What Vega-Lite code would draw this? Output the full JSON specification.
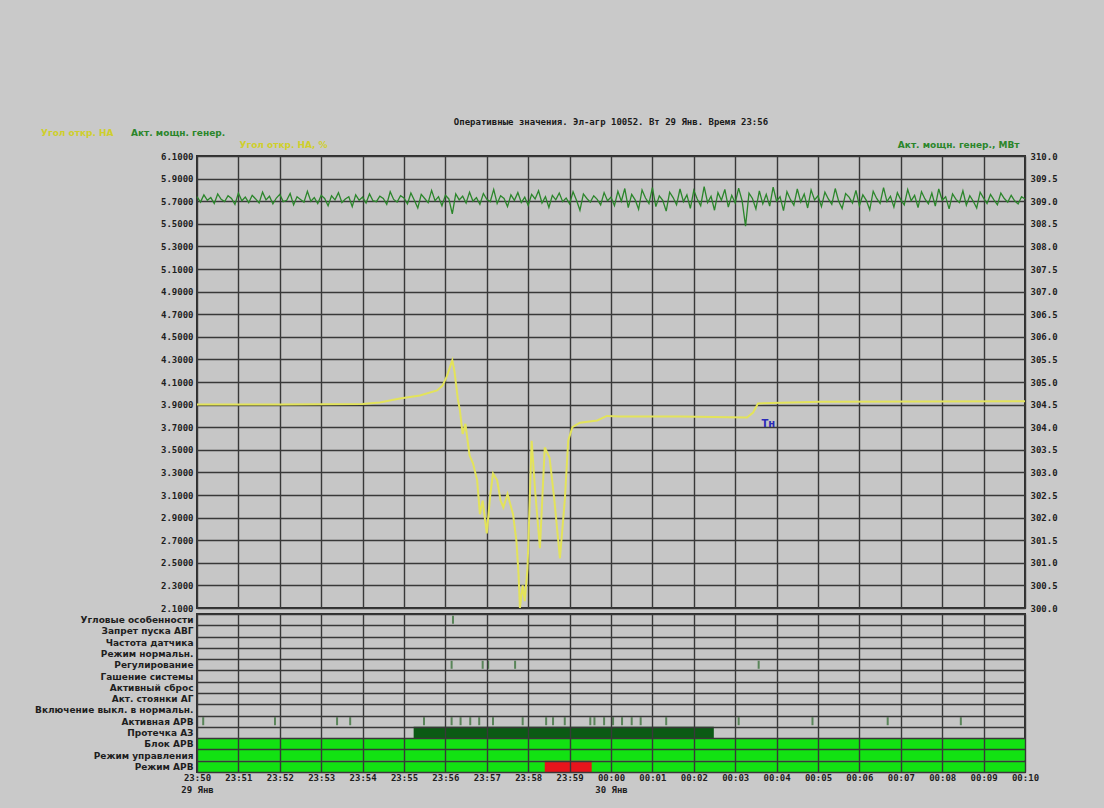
{
"$schema": "https://vega.github.io/schema/vega-lite/v6.json",
"background": "#c9c9c9",
"padding": {"left": 31, "top": 117, "right": 60, "bottom": 30},
"spacing": -7,
"resolve": {"scale": {"color": "independent"}},
"config": {
  "view": {"fill": "#c6c6c6", "stroke": "#2e2e2e", "strokeWidth": 2},
  "axis": {"labelFont": "DejaVu Sans Mono", "labelFontWeight": "bold", "labelFontSize": 9, "labelColor": "#1e1e1e", "gridColor": "#383838", "gridWidth": 1.4, "gridOpacity": 1, "domain": false, "ticks": false, "titleFont": "DejaVu Sans", "titleFontSize": 9, "titleFontWeight": "bold", "labelOverlap": false},
  "legend": {"labelFont": "DejaVu Sans", "labelFontSize": 9, "labelFontWeight": "bold"}
},
"datasets": {
  "yellow": [
    {"t": "2008-01-29T23:50:00", "v": 3.900},
    {"t": "2008-01-29T23:52:00", "v": 3.900},
    {"t": "2008-01-29T23:54:00", "v": 3.905},
    {"t": "2008-01-29T23:54:25", "v": 3.918},
    {"t": "2008-01-29T23:54:54", "v": 3.954},
    {"t": "2008-01-29T23:55:23", "v": 3.980},
    {"t": "2008-01-29T23:55:48", "v": 4.025},
    {"t": "2008-01-29T23:55:56", "v": 4.069},
    {"t": "2008-01-29T23:56:02", "v": 4.150},
    {"t": "2008-01-29T23:56:10", "v": 4.291},
    {"t": "2008-01-29T23:56:13", "v": 4.200},
    {"t": "2008-01-29T23:56:18", "v": 3.950},
    {"t": "2008-01-29T23:56:21", "v": 3.850},
    {"t": "2008-01-29T23:56:25", "v": 3.640},
    {"t": "2008-01-29T23:56:29", "v": 3.730},
    {"t": "2008-01-29T23:56:35", "v": 3.450},
    {"t": "2008-01-29T23:56:40", "v": 3.380},
    {"t": "2008-01-29T23:56:46", "v": 3.230},
    {"t": "2008-01-29T23:56:50", "v": 2.930},
    {"t": "2008-01-29T23:56:54", "v": 3.050},
    {"t": "2008-01-29T23:57:00", "v": 2.760},
    {"t": "2008-01-29T23:57:05", "v": 3.100},
    {"t": "2008-01-29T23:57:09", "v": 3.290},
    {"t": "2008-01-29T23:57:15", "v": 3.230},
    {"t": "2008-01-29T23:57:20", "v": 3.050},
    {"t": "2008-01-29T23:57:24", "v": 2.990},
    {"t": "2008-01-29T23:57:30", "v": 3.110},
    {"t": "2008-01-29T23:57:38", "v": 2.930},
    {"t": "2008-01-29T23:57:43", "v": 2.690},
    {"t": "2008-01-29T23:57:46", "v": 2.400},
    {"t": "2008-01-29T23:57:48", "v": 2.100},
    {"t": "2008-01-29T23:57:52", "v": 2.300},
    {"t": "2008-01-29T23:57:55", "v": 2.160},
    {"t": "2008-01-29T23:57:59", "v": 2.450},
    {"t": "2008-01-29T23:58:05", "v": 3.580},
    {"t": "2008-01-29T23:58:10", "v": 3.140},
    {"t": "2008-01-29T23:58:17", "v": 2.630},
    {"t": "2008-01-29T23:58:24", "v": 3.520},
    {"t": "2008-01-29T23:58:31", "v": 3.430},
    {"t": "2008-01-29T23:58:38", "v": 3.050},
    {"t": "2008-01-29T23:58:46", "v": 2.540},
    {"t": "2008-01-29T23:58:53", "v": 3.050},
    {"t": "2008-01-29T23:58:58", "v": 3.580},
    {"t": "2008-01-29T23:59:04", "v": 3.700},
    {"t": "2008-01-29T23:59:15", "v": 3.740},
    {"t": "2008-01-29T23:59:40", "v": 3.760},
    {"t": "2008-01-29T23:59:54", "v": 3.800},
    {"t": "2008-01-30T00:00:13", "v": 3.795},
    {"t": "2008-01-30T00:01:40", "v": 3.795},
    {"t": "2008-01-30T00:03:17", "v": 3.785},
    {"t": "2008-01-30T00:03:26", "v": 3.830},
    {"t": "2008-01-30T00:03:33", "v": 3.910},
    {"t": "2008-01-30T00:05:03", "v": 3.925},
    {"t": "2008-01-30T00:10:00", "v": 3.930}
  ],
  "green": [
    {"t": "2008-01-29T23:50:00", "v": 309.10}, {"t": "2008-01-29T23:50:05", "v": 308.98}, {"t": "2008-01-29T23:50:10", "v": 309.14}, {"t": "2008-01-29T23:50:15", "v": 309.02}, {"t": "2008-01-29T23:50:20", "v": 309.08}, {"t": "2008-01-29T23:50:25", "v": 308.95}, {"t": "2008-01-29T23:50:30", "v": 309.16}, {"t": "2008-01-29T23:50:35", "v": 309.04}, {"t": "2008-01-29T23:50:40", "v": 308.99}, {"t": "2008-01-29T23:50:45", "v": 309.12}, {"t": "2008-01-29T23:50:50", "v": 309.06}, {"t": "2008-01-29T23:50:55", "v": 308.93},
    {"t": "2008-01-29T23:51:00", "v": 309.18}, {"t": "2008-01-29T23:51:05", "v": 309.01}, {"t": "2008-01-29T23:51:10", "v": 309.09}, {"t": "2008-01-29T23:51:15", "v": 308.97}, {"t": "2008-01-29T23:51:20", "v": 309.13}, {"t": "2008-01-29T23:51:25", "v": 309.05}, {"t": "2008-01-29T23:51:30", "v": 308.96}, {"t": "2008-01-29T23:51:35", "v": 309.20}, {"t": "2008-01-29T23:51:40", "v": 309.03}, {"t": "2008-01-29T23:51:45", "v": 309.11}, {"t": "2008-01-29T23:51:50", "v": 308.94}, {"t": "2008-01-29T23:51:55", "v": 309.07},
    {"t": "2008-01-29T23:52:00", "v": 309.15}, {"t": "2008-01-29T23:52:05", "v": 308.99}, {"t": "2008-01-29T23:52:10", "v": 309.02}, {"t": "2008-01-29T23:52:15", "v": 309.17}, {"t": "2008-01-29T23:52:20", "v": 308.92}, {"t": "2008-01-29T23:52:25", "v": 309.10}, {"t": "2008-01-29T23:52:30", "v": 309.04}, {"t": "2008-01-29T23:52:35", "v": 308.98}, {"t": "2008-01-29T23:52:40", "v": 309.22}, {"t": "2008-01-29T23:52:45", "v": 309.00}, {"t": "2008-01-29T23:52:50", "v": 309.08}, {"t": "2008-01-29T23:52:55", "v": 308.95},
    {"t": "2008-01-29T23:53:00", "v": 309.13}, {"t": "2008-01-29T23:53:05", "v": 309.06}, {"t": "2008-01-29T23:53:10", "v": 308.90}, {"t": "2008-01-29T23:53:15", "v": 309.12}, {"t": "2008-01-29T23:53:20", "v": 309.03}, {"t": "2008-01-29T23:53:25", "v": 309.19}, {"t": "2008-01-29T23:53:30", "v": 308.97}, {"t": "2008-01-29T23:53:35", "v": 309.05}, {"t": "2008-01-29T23:53:40", "v": 309.10}, {"t": "2008-01-29T23:53:45", "v": 308.88}, {"t": "2008-01-29T23:53:50", "v": 309.14}, {"t": "2008-01-29T23:53:55", "v": 309.02},
    {"t": "2008-01-29T23:54:00", "v": 309.09}, {"t": "2008-01-29T23:54:05", "v": 308.96}, {"t": "2008-01-29T23:54:10", "v": 309.16}, {"t": "2008-01-29T23:54:15", "v": 309.01}, {"t": "2008-01-29T23:54:20", "v": 308.99}, {"t": "2008-01-29T23:54:25", "v": 309.11}, {"t": "2008-01-29T23:54:30", "v": 309.06}, {"t": "2008-01-29T23:54:35", "v": 308.93}, {"t": "2008-01-29T23:54:40", "v": 309.21}, {"t": "2008-01-29T23:54:45", "v": 309.04}, {"t": "2008-01-29T23:54:50", "v": 308.98}, {"t": "2008-01-29T23:54:55", "v": 309.12},
    {"t": "2008-01-29T23:55:00", "v": 309.07}, {"t": "2008-01-29T23:55:05", "v": 308.94}, {"t": "2008-01-29T23:55:10", "v": 309.18}, {"t": "2008-01-29T23:55:15", "v": 309.02}, {"t": "2008-01-29T23:55:20", "v": 308.85}, {"t": "2008-01-29T23:55:25", "v": 309.15}, {"t": "2008-01-29T23:55:30", "v": 309.06}, {"t": "2008-01-29T23:55:35", "v": 308.97}, {"t": "2008-01-29T23:55:40", "v": 309.24}, {"t": "2008-01-29T23:55:45", "v": 309.01}, {"t": "2008-01-29T23:55:50", "v": 309.10}, {"t": "2008-01-29T23:55:55", "v": 308.90},
    {"t": "2008-01-29T23:56:00", "v": 309.13}, {"t": "2008-01-29T23:56:05", "v": 309.05}, {"t": "2008-01-29T23:56:10", "v": 308.72}, {"t": "2008-01-29T23:56:15", "v": 309.16}, {"t": "2008-01-29T23:56:20", "v": 309.03}, {"t": "2008-01-29T23:56:25", "v": 309.11}, {"t": "2008-01-29T23:56:30", "v": 308.96}, {"t": "2008-01-29T23:56:35", "v": 309.20}, {"t": "2008-01-29T23:56:40", "v": 309.00}, {"t": "2008-01-29T23:56:45", "v": 309.08}, {"t": "2008-01-29T23:56:50", "v": 308.93}, {"t": "2008-01-29T23:56:55", "v": 309.17},
    {"t": "2008-01-29T23:57:00", "v": 309.04}, {"t": "2008-01-29T23:57:05", "v": 308.99}, {"t": "2008-01-29T23:57:10", "v": 309.26}, {"t": "2008-01-29T23:57:15", "v": 308.95}, {"t": "2008-01-29T23:57:20", "v": 309.12}, {"t": "2008-01-29T23:57:25", "v": 309.06}, {"t": "2008-01-29T23:57:30", "v": 308.88}, {"t": "2008-01-29T23:57:35", "v": 309.14}, {"t": "2008-01-29T23:57:40", "v": 309.02}, {"t": "2008-01-29T23:57:45", "v": 309.19}, {"t": "2008-01-29T23:57:50", "v": 308.97}, {"t": "2008-01-29T23:57:55", "v": 309.09},
    {"t": "2008-01-29T23:58:00", "v": 308.91}, {"t": "2008-01-29T23:58:05", "v": 309.15}, {"t": "2008-01-29T23:58:10", "v": 309.05}, {"t": "2008-01-29T23:58:15", "v": 309.23}, {"t": "2008-01-29T23:58:20", "v": 308.96}, {"t": "2008-01-29T23:58:25", "v": 309.10}, {"t": "2008-01-29T23:58:30", "v": 308.86}, {"t": "2008-01-29T23:58:35", "v": 309.13}, {"t": "2008-01-29T23:58:40", "v": 309.03}, {"t": "2008-01-29T23:58:45", "v": 309.18}, {"t": "2008-01-29T23:58:50", "v": 308.99}, {"t": "2008-01-29T23:58:55", "v": 309.07},
    {"t": "2008-01-29T23:59:00", "v": 308.94}, {"t": "2008-01-29T23:59:05", "v": 309.21}, {"t": "2008-01-29T23:59:10", "v": 309.02}, {"t": "2008-01-29T23:59:15", "v": 308.80}, {"t": "2008-01-29T23:59:20", "v": 309.16}, {"t": "2008-01-29T23:59:25", "v": 309.06}, {"t": "2008-01-29T23:59:30", "v": 308.98}, {"t": "2008-01-29T23:59:35", "v": 309.12}, {"t": "2008-01-29T23:59:40", "v": 309.04}, {"t": "2008-01-29T23:59:45", "v": 308.92}, {"t": "2008-01-29T23:59:50", "v": 309.19}, {"t": "2008-01-29T23:59:55", "v": 309.01},
    {"t": "2008-01-30T00:00:00", "v": 309.09}, {"t": "2008-01-30T00:00:05", "v": 308.90}, {"t": "2008-01-30T00:00:10", "v": 309.22}, {"t": "2008-01-30T00:00:15", "v": 309.00}, {"t": "2008-01-30T00:00:20", "v": 309.28}, {"t": "2008-01-30T00:00:25", "v": 308.86}, {"t": "2008-01-30T00:00:30", "v": 309.15}, {"t": "2008-01-30T00:00:35", "v": 309.03}, {"t": "2008-01-30T00:00:40", "v": 308.82}, {"t": "2008-01-30T00:00:45", "v": 309.25}, {"t": "2008-01-30T00:00:50", "v": 309.07}, {"t": "2008-01-30T00:00:55", "v": 308.95},
    {"t": "2008-01-30T00:01:00", "v": 309.30}, {"t": "2008-01-30T00:01:05", "v": 308.88}, {"t": "2008-01-30T00:01:10", "v": 309.12}, {"t": "2008-01-30T00:01:15", "v": 309.02}, {"t": "2008-01-30T00:01:20", "v": 308.78}, {"t": "2008-01-30T00:01:25", "v": 309.20}, {"t": "2008-01-30T00:01:30", "v": 309.08}, {"t": "2008-01-30T00:01:35", "v": 308.92}, {"t": "2008-01-30T00:01:40", "v": 309.27}, {"t": "2008-01-30T00:01:45", "v": 308.99}, {"t": "2008-01-30T00:01:50", "v": 309.14}, {"t": "2008-01-30T00:01:55", "v": 308.84},
    {"t": "2008-01-30T00:02:00", "v": 309.24}, {"t": "2008-01-30T00:02:05", "v": 309.05}, {"t": "2008-01-30T00:02:10", "v": 308.90}, {"t": "2008-01-30T00:02:15", "v": 309.32}, {"t": "2008-01-30T00:02:20", "v": 308.97}, {"t": "2008-01-30T00:02:25", "v": 309.11}, {"t": "2008-01-30T00:02:30", "v": 308.80}, {"t": "2008-01-30T00:02:35", "v": 309.19}, {"t": "2008-01-30T00:02:40", "v": 309.02}, {"t": "2008-01-30T00:02:45", "v": 309.26}, {"t": "2008-01-30T00:02:50", "v": 308.87}, {"t": "2008-01-30T00:02:55", "v": 309.13},
    {"t": "2008-01-30T00:03:00", "v": 308.96}, {"t": "2008-01-30T00:03:05", "v": 309.29}, {"t": "2008-01-30T00:03:10", "v": 309.01}, {"t": "2008-01-30T00:03:15", "v": 308.45}, {"t": "2008-01-30T00:03:20", "v": 309.18}, {"t": "2008-01-30T00:03:25", "v": 309.06}, {"t": "2008-01-30T00:03:30", "v": 308.83}, {"t": "2008-01-30T00:03:35", "v": 309.23}, {"t": "2008-01-30T00:03:40", "v": 308.94}, {"t": "2008-01-30T00:03:45", "v": 309.15}, {"t": "2008-01-30T00:03:50", "v": 308.89}, {"t": "2008-01-30T00:03:55", "v": 309.31},
    {"t": "2008-01-30T00:04:00", "v": 309.00}, {"t": "2008-01-30T00:04:05", "v": 309.10}, {"t": "2008-01-30T00:04:10", "v": 308.79}, {"t": "2008-01-30T00:04:15", "v": 309.21}, {"t": "2008-01-30T00:04:20", "v": 309.04}, {"t": "2008-01-30T00:04:25", "v": 308.91}, {"t": "2008-01-30T00:04:30", "v": 309.27}, {"t": "2008-01-30T00:04:35", "v": 308.98}, {"t": "2008-01-30T00:04:40", "v": 309.16}, {"t": "2008-01-30T00:04:45", "v": 308.85}, {"t": "2008-01-30T00:04:50", "v": 309.25}, {"t": "2008-01-30T00:04:55", "v": 309.03},
    {"t": "2008-01-30T00:05:00", "v": 309.12}, {"t": "2008-01-30T00:05:05", "v": 308.88}, {"t": "2008-01-30T00:05:10", "v": 309.20}, {"t": "2008-01-30T00:05:15", "v": 309.05}, {"t": "2008-01-30T00:05:20", "v": 308.93}, {"t": "2008-01-30T00:05:25", "v": 309.28}, {"t": "2008-01-30T00:05:30", "v": 309.00}, {"t": "2008-01-30T00:05:35", "v": 308.84}, {"t": "2008-01-30T00:05:40", "v": 309.17}, {"t": "2008-01-30T00:05:45", "v": 309.09}, {"t": "2008-01-30T00:05:50", "v": 308.96}, {"t": "2008-01-30T00:05:55", "v": 309.24},
    {"t": "2008-01-30T00:06:00", "v": 308.90}, {"t": "2008-01-30T00:06:05", "v": 309.14}, {"t": "2008-01-30T00:06:10", "v": 309.02}, {"t": "2008-01-30T00:06:15", "v": 308.81}, {"t": "2008-01-30T00:06:20", "v": 309.22}, {"t": "2008-01-30T00:06:25", "v": 309.06}, {"t": "2008-01-30T00:06:30", "v": 308.95}, {"t": "2008-01-30T00:06:35", "v": 309.30}, {"t": "2008-01-30T00:06:40", "v": 308.99}, {"t": "2008-01-30T00:06:45", "v": 309.11}, {"t": "2008-01-30T00:06:50", "v": 308.87}, {"t": "2008-01-30T00:06:55", "v": 309.19},
    {"t": "2008-01-30T00:07:00", "v": 309.03}, {"t": "2008-01-30T00:07:05", "v": 308.92}, {"t": "2008-01-30T00:07:10", "v": 309.26}, {"t": "2008-01-30T00:07:15", "v": 309.01}, {"t": "2008-01-30T00:07:20", "v": 309.13}, {"t": "2008-01-30T00:07:25", "v": 308.86}, {"t": "2008-01-30T00:07:30", "v": 309.21}, {"t": "2008-01-30T00:07:35", "v": 309.05}, {"t": "2008-01-30T00:07:40", "v": 308.94}, {"t": "2008-01-30T00:07:45", "v": 309.18}, {"t": "2008-01-30T00:07:50", "v": 308.89}, {"t": "2008-01-30T00:07:55", "v": 309.27},
    {"t": "2008-01-30T00:08:00", "v": 309.02}, {"t": "2008-01-30T00:08:05", "v": 309.10}, {"t": "2008-01-30T00:08:10", "v": 308.83}, {"t": "2008-01-30T00:08:15", "v": 309.16}, {"t": "2008-01-30T00:08:20", "v": 309.04}, {"t": "2008-01-30T00:08:25", "v": 308.97}, {"t": "2008-01-30T00:08:30", "v": 309.23}, {"t": "2008-01-30T00:08:35", "v": 308.91}, {"t": "2008-01-30T00:08:40", "v": 309.12}, {"t": "2008-01-30T00:08:45", "v": 309.00}, {"t": "2008-01-30T00:08:50", "v": 308.85}, {"t": "2008-01-30T00:08:55", "v": 309.20},
    {"t": "2008-01-30T00:09:00", "v": 309.07}, {"t": "2008-01-30T00:09:05", "v": 308.95}, {"t": "2008-01-30T00:09:10", "v": 309.15}, {"t": "2008-01-30T00:09:15", "v": 309.03}, {"t": "2008-01-30T00:09:20", "v": 308.92}, {"t": "2008-01-30T00:09:25", "v": 309.18}, {"t": "2008-01-30T00:09:30", "v": 309.06}, {"t": "2008-01-30T00:09:35", "v": 308.98}, {"t": "2008-01-30T00:09:40", "v": 309.13}, {"t": "2008-01-30T00:09:45", "v": 309.01}, {"t": "2008-01-30T00:09:50", "v": 308.94}, {"t": "2008-01-30T00:09:55", "v": 309.10},
    {"t": "2008-01-30T00:10:00", "v": 309.05}
  ],
  "bars": [
    {"row": "Протечка АЗ", "start": "2008-01-29T23:55:14", "end": "2008-01-30T00:02:29", "kind": "active"},
    {"row": "Блок АРВ", "start": "2008-01-29T23:50:00", "end": "2008-01-30T00:10:00", "kind": "on"},
    {"row": "Режим управления", "start": "2008-01-29T23:50:00", "end": "2008-01-30T00:10:00", "kind": "on"},
    {"row": "Режим АРВ", "start": "2008-01-29T23:50:00", "end": "2008-01-30T00:10:00", "kind": "on"},
    {"row": "Режим АРВ", "start": "2008-01-29T23:58:24", "end": "2008-01-29T23:59:32", "kind": "alarm"}
  ],
  "marks": [
    {"row": "Угловые особенности", "t": "2008-01-29T23:56:11"},
    {"row": "Регулирование", "t": "2008-01-29T23:56:09"},
    {"row": "Регулирование", "t": "2008-01-29T23:56:54"},
    {"row": "Регулирование", "t": "2008-01-29T23:57:02"},
    {"row": "Регулирование", "t": "2008-01-29T23:57:41"},
    {"row": "Регулирование", "t": "2008-01-30T00:03:34"},
    {"row": "Активная АРВ", "t": "2008-01-29T23:50:09"},
    {"row": "Активная АРВ", "t": "2008-01-29T23:51:53"},
    {"row": "Активная АРВ", "t": "2008-01-29T23:53:23"},
    {"row": "Активная АРВ", "t": "2008-01-29T23:53:42"},
    {"row": "Активная АРВ", "t": "2008-01-29T23:55:29"},
    {"row": "Активная АРВ", "t": "2008-01-29T23:56:09"},
    {"row": "Активная АРВ", "t": "2008-01-29T23:56:22"},
    {"row": "Активная АРВ", "t": "2008-01-29T23:56:36"},
    {"row": "Активная АРВ", "t": "2008-01-29T23:56:49"},
    {"row": "Активная АРВ", "t": "2008-01-29T23:57:09"},
    {"row": "Активная АРВ", "t": "2008-01-29T23:57:52"},
    {"row": "Активная АРВ", "t": "2008-01-29T23:58:26"},
    {"row": "Активная АРВ", "t": "2008-01-29T23:58:36"},
    {"row": "Активная АРВ", "t": "2008-01-29T23:58:53"},
    {"row": "Активная АРВ", "t": "2008-01-29T23:59:30"},
    {"row": "Активная АРВ", "t": "2008-01-29T23:59:36"},
    {"row": "Активная АРВ", "t": "2008-01-29T23:59:50"},
    {"row": "Активная АРВ", "t": "2008-01-30T00:00:03"},
    {"row": "Активная АРВ", "t": "2008-01-30T00:00:16"},
    {"row": "Активная АРВ", "t": "2008-01-30T00:00:30"},
    {"row": "Активная АРВ", "t": "2008-01-30T00:00:43"},
    {"row": "Активная АРВ", "t": "2008-01-30T00:01:20"},
    {"row": "Активная АРВ", "t": "2008-01-30T00:03:05"},
    {"row": "Активная АРВ", "t": "2008-01-30T00:04:52"},
    {"row": "Активная АРВ", "t": "2008-01-30T00:06:41"},
    {"row": "Активная АРВ", "t": "2008-01-30T00:08:27"}
  ]
},
"vconcat": [
  {
    "width": 828,
    "height": 452,
    "title": {"text": "Оперативные значения. Эл-агр 10052. Вт 29 Янв. Время 23:56", "font": "DejaVu Sans Mono", "fontSize": 9, "fontWeight": "bold", "color": "#1a1a1a", "offset": 1},
    "layer": [
      {
        "layer": [
          {
            "data": {"name": "yellow"},
            "mark": {"type": "line", "strokeWidth": 2},
            "encoding": {
              "x": {"field": "t", "type": "temporal", "axis": {"title": null, "labels": false, "grid": true, "tickCount": 20, "minExtent": 0, "maxExtent": 0, "labelPadding": 0}},
              "y": {"field": "v", "type": "quantitative", "scale": {"domain": [2.1, 6.1], "nice": false, "zero": false}, "axis": {"values": [2.1, 2.3, 2.5, 2.7, 2.9, 3.1, 3.3, 3.5, 3.7, 3.9, 4.1, 4.3, 4.5, 4.7, 4.9, 5.1, 5.3, 5.5, 5.7, 5.9, 6.1], "format": ".4f", "grid": true, "labelOverlap": false, "labelPadding": 4, "title": "Угол откр. НА, %", "titleAngle": 0, "titleAlign": "left", "titleBaseline": "bottom", "titleX": 42, "titleY": -7, "titleColor": "#cfcf2c"}},
              "color": {"datum": "Угол откр. НА", "scale": {"domain": ["Угол откр. НА", "Акт. мощн. генер."], "range": ["#e3e35a", "#2b862b"]}, "legend": {"orient": "none", "legendX": -165, "legendY": -28, "direction": "horizontal", "title": null, "symbolOpacity": 0, "symbolSize": 0, "symbolStrokeWidth": 0, "labelOffset": 0, "columnPadding": 8, "encode": {"labels": {"update": {"fill": {"signal": "datum.value === 'Угол откр. НА' ? '#cfcf2c' : '#2b862b'"}}}}}}
            }
          },
          {
            "data": {"values": [{"t": "2008-01-30T00:03:38", "v": 3.73, "label": "Тн"}]},
            "mark": {"type": "text", "color": "#2a2ab8", "font": "DejaVu Sans", "fontSize": 10, "fontWeight": "bold", "align": "left"},
            "encoding": {
              "x": {"field": "t", "type": "temporal", "axis": {"title": null, "labels": false, "grid": true, "tickCount": 20, "minExtent": 0, "maxExtent": 0, "labelPadding": 0}},
              "y": {"field": "v", "type": "quantitative", "scale": {"domain": [2.1, 6.1], "nice": false, "zero": false}, "axis": {"values": [2.1, 2.3, 2.5, 2.7, 2.9, 3.1, 3.3, 3.5, 3.7, 3.9, 4.1, 4.3, 4.5, 4.7, 4.9, 5.1, 5.3, 5.5, 5.7, 5.9, 6.1], "format": ".4f", "grid": true, "labelOverlap": false, "labelPadding": 4, "title": "Угол откр. НА, %", "titleAngle": 0, "titleAlign": "left", "titleBaseline": "bottom", "titleX": 42, "titleY": -7, "titleColor": "#cfcf2c"}},
              "text": {"field": "label"}
            }
          }
        ]
      },
      {
        "data": {"name": "green"},
        "mark": {"type": "line", "strokeWidth": 1.3},
        "encoding": {
          "x": {"field": "t", "type": "temporal"},
          "y": {"field": "v", "type": "quantitative", "scale": {"domain": [300, 310], "nice": false, "zero": false}, "axis": {"orient": "right", "values": [300, 300.5, 301, 301.5, 302, 302.5, 303, 303.5, 304, 304.5, 305, 305.5, 306, 306.5, 307, 307.5, 308, 308.5, 309, 309.5, 310], "format": ".1f", "grid": false, "labelOverlap": false, "labelPadding": 5, "title": "Акт. мощн. генер., МВт", "titleAngle": 0, "titleAlign": "right", "titleBaseline": "bottom", "titleX": -6, "titleY": -7, "titleColor": "#2b862b"}},
          "color": {"datum": "Акт. мощн. генер."}
        }
      }
    ],
    "resolve": {"scale": {"y": "independent"}}
  },
  {
    "width": 828,
    "height": 158,
    "layer": [
      {
        "data": {"name": "bars"},
        "mark": {"type": "rect"},
        "encoding": {
          "x": {"field": "start", "type": "temporal", "axis": {"title": null, "grid": true, "zindex": 1, "tickCount": 20, "format": "%H:%M", "labelPadding": 1, "labelOverlap": false, "labelFlush": false, "labelLineHeight": 12, "labelExpr": "(hours(datum.value) == 23 && minutes(datum.value) == 50) ? ['23:50', '\u2007\u2007\u2007\u2007\u2007\u200729 Янв'] : ((hours(datum.value) == 0 && minutes(datum.value) == 0) ? ['00:00', '\u2007\u2007\u2007\u2007\u2007\u200730 Янв'] : datum.label)"}},
          "x2": {"field": "end"},
          "y": {"field": "row", "type": "nominal", "scale": {"domain": ["Угловые особенности", "Запрет пуска АВГ", "Частота датчика", "Режим нормальн.", "Регулирование", "Гашение системы", "Активный сброс", "Акт. стоянки АГ", "Включение выкл. в нормальн.", "Активная АРВ", "Протечка АЗ", "Блок АРВ", "Режим управления", "Режим АРВ"], "paddingInner": 0, "paddingOuter": 0}, "axis": {"title": null, "labelFont": "DejaVu Sans", "labelFontSize": 9, "labelFontWeight": "bold", "grid": true, "tickBand": "extent", "zindex": 1, "labelPadding": 4}},
          "fill": {"field": "kind", "type": "nominal", "scale": {"domain": ["on", "active", "alarm"], "range": ["#12e212", "#0b5a14", "#e8141c"]}, "legend": null}
        }
      },
      {
        "data": {"name": "marks"},
        "mark": {"type": "tick", "color": "#2b6a2b", "thickness": 2, "size": 8},
        "encoding": {
          "x": {"field": "t", "type": "temporal"},
          "y": {"field": "row", "type": "nominal"}
        }
      }
    ]
  }
]
}
